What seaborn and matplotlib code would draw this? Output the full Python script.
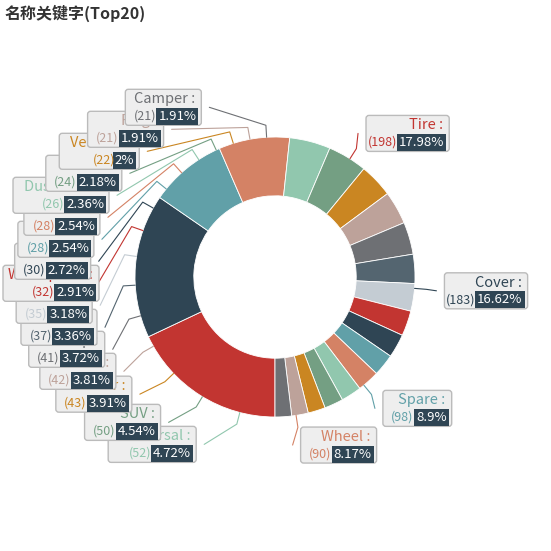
import numpy as np
import matplotlib.pyplot as plt
import seaborn as sns
from matplotlib.patches import FancyBboxPatch

sns.set_theme(style="white")
plt.rcParams['font.family'] = ['Noto Sans CJK SC', 'DejaVu Sans']

names = ["Tire", "Cover", "Spare", "Wheel", "Universal", "SUV", "Car", "Trailer",
         "Jeep", "Fit", "Truck", "Waterproof", "RV", "Black", "ATV", "Dust Proof",
         "Covers", "Vehicles", "Flag", "Camper"]
values = [198, 183, 98, 90, 52, 50, 43, 42, 41, 37, 35, 32, 30, 28, 28, 26, 24, 22, 21, 21]
palette = ["#c23531", "#2f4554", "#61a0a8", "#d48265", "#91c7ae", "#749f83",
           "#ca8622", "#bda29a", "#6e7074", "#546570", "#c4ccd3"]
colors = [palette[i % len(palette)] for i in range(len(values))]

W = 551
fig = plt.figure(figsize=(W / 100, W / 100), dpi=100)
ax = fig.add_axes([0, 0, 1, 1])

cx, cy, r = 275, 277, 140
# y axis is flipped below, so counterclock=True draws clockwise on screen
ax.pie(values, colors=colors, center=(cx, cy), radius=r, startangle=90,
       counterclock=True, wedgeprops=dict(width=r * 0.42, edgecolor="white", linewidth=0.6),
       frame=True)
ax.set_xlim(0, W)
ax.set_ylim(W, 0)
ax.set_aspect("equal")
ax.axis("off")

total = sum(values)
cum = np.cumsum([0] + values[:-1])
mids = [(c + v / 2) / total * 2 * np.pi for c, v in zip(cum, values)]

pos = []
for m in mids:
    sx, sy = np.sin(m), -np.cos(m)
    pos.append([cx + sx * (r + 30), cy + sy * (r + 30), sx >= 0])
left = [i for i in range(len(values)) if not pos[i][2]]
left.sort(key=lambda i: pos[i][1])
for a, b in zip(left, left[1:]):
    if pos[b][1] - pos[a][1] < 22:
        pos[b][1] = pos[a][1] + 22
for i in left:
    dy = pos[i][1] - cy
    R = r + 45
    pos[i][0] = cx - np.sqrt(R ** 2 - dy ** 2) if abs(dy) < R else cx - 60

for i, (n, v) in enumerate(zip(names, values)):
    m = mids[i]
    sx, sy = np.sin(m), -np.cos(m)
    x0, y0 = cx + sx * r, cy + sy * r
    x1, y1 = cx + sx * (r + 12), cy + sy * (r + 12)
    lx, ly, right = pos[i]
    ex = lx - 8 if right else lx + 8
    ax.plot([x0, x1, ex], [y0, y1, ly], color=colors[i], lw=0.8, zorder=3)
    pct = f"{v / total * 100:.2f}".rstrip("0").rstrip(".") + "%"
    name_s = f"{n} :"
    w = max(len(name_s) * 8.0, 40 + len(pct) * 7.2)
    h = 36
    bx = lx if right else max(lx - w, 3)
    by = ly - h / 2
    z = 4 + i * 0.01
    ax.add_patch(FancyBboxPatch((bx, by), w, h, boxstyle="round,pad=0,rounding_size=3",
                                fc="#eeeeee", ec="#bbbbbb", lw=1, zorder=z))
    ax.text(bx + w - 6, by + 10, name_s, ha="right", va="center", fontsize=10.5,
            color=colors[i], zorder=z + 0.005)
    ax.text(bx + w - 5, by + 27, pct, ha="right", va="center", fontsize=9.5,
            color="white", zorder=z + 0.005,
            bbox=dict(boxstyle="square,pad=0.15", fc="#2f4554", ec="none"))
    ax.text(bx + w - 10 - len(pct) * 7.0, by + 27, f"({v})", ha="right", va="center",
            fontsize=9, color=colors[i], zorder=z + 0.005)

fig.text(5 / W, 1 - 13 / W, "名称关键字(Top20)", fontsize=11.5, fontweight="bold",
         color="#333333", va="center", ha="left")

fig.savefig("out.png", dpi=100)
